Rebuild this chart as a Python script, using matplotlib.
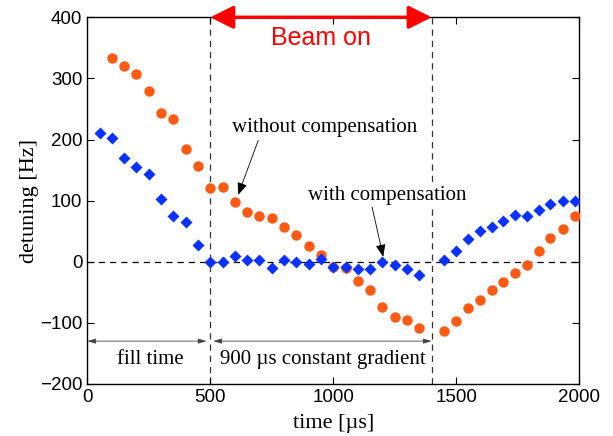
import matplotlib
matplotlib.use("Agg")
import matplotlib.pyplot as plt

# detuning without compensation (orange circles)
t_without = [100, 150, 200, 250, 300, 350, 400, 450, 500, 550, 600, 650, 700,
             750, 800, 850, 900, 950, 1000, 1050, 1100, 1150, 1200, 1250, 1300,
             1350, 1450, 1500, 1546, 1595, 1644, 1690, 1739, 1788, 1835, 1882,
             1932, 1981]
d_without = [333, 321, 308, 280, 244, 233, 185, 156, 120, 123, 98, 82, 75,
             72, 56, 44, 25, 11, -8, -10, -32, -46, -74, -91, -96,
             -108, -113, -97, -76, -62, -47, -33, -18, -5, 17, 38,
             54, 75]

# detuning with compensation (blue diamonds)
t_with = [50, 100, 150, 200, 250, 300, 350, 400, 450, 500, 550, 600, 650, 700,
          750, 800, 850, 900, 950, 1000, 1050, 1100, 1150, 1200, 1250, 1300,
          1350, 1450, 1500, 1546, 1595, 1644, 1690, 1739, 1788, 1835, 1882,
          1932, 1981]
d_with = [211, 203, 169, 155, 144, 102, 75, 65, 28, -1, -1, 10, 2, 2,
          -10, 3, -1, -4, 5, -9, -8, -12, -12, -1, -5, -12,
          -21, 3, 17, 37, 51, 57, 66, 76, 75, 85, 94,
          100, 100]

fill_end = 500
beam_end = 1400

serif = ["Liberation Serif", "DejaVu Serif"]
sans = ["Liberation Sans", "DejaVu Sans"]

fig = plt.figure(figsize=(6.13, 4.36), dpi=100)
ax = fig.add_axes([0.1424, 0.1195, 0.8026, 0.8408])

ax.axhline(0, color="black", lw=0.9, ls=(0, (5, 4)), zorder=1)
ax.axvline(fill_end, color="#333333", lw=0.9, ls=(0, (5, 4)), zorder=1)
ax.axvline(beam_end, color="#333333", lw=0.9, ls=(0, (5, 4)), zorder=1)

ax.plot(t_without, d_without, "o", color="#FF5A14", ms=7.5, mec="none", zorder=3)
ax.plot(t_with, d_with, "D", color="#0A32FF", ms=6.5, mec="none", zorder=3)

ax.set_xlim(0, 2000)
ax.set_ylim(-200, 400)
ax.set_xticks(range(0, 2001, 500))
ax.set_yticks(range(-200, 401, 100))
ax.tick_params(direction="in", top=True, right=True, length=5, width=0.8,
               labelsize=13.5)
for lbl in ax.get_xticklabels() + ax.get_yticklabels():
    lbl.set_family(sans)
for sp in ax.spines.values():
    sp.set_linewidth(1.0)

ax.set_xlabel("time [\u00b5s]", family=serif, fontsize=16, labelpad=6)
ax.set_ylabel("detuning [Hz]", family=serif, fontsize=16, labelpad=1)

# beam on arrow across the top
ax.annotate("", xy=(fill_end, 400), xytext=(beam_end, 400),
            arrowprops=dict(arrowstyle="<|-|>,head_length=1.4,head_width=0.7",
                            color="red", lw=2.5, shrinkA=0, shrinkB=0),
            annotation_clip=False, zorder=5)
ax.text(950, 366, "Beam on", color="red", family=sans, fontsize=18,
        ha="center", va="center")

# labelled curves
ax.annotate("without compensation", xy=(609, 105), xytext=(963, 219),
            family=serif, fontsize=15, ha="center", va="center",
            arrowprops=dict(arrowstyle="-|>,head_length=0.5,head_width=0.2",
                            color="black", lw=0.6, shrinkA=0, shrinkB=2,
                            relpos=(0.15, 0.0)))
ax.annotate("with compensation", xy=(1203, 8), xytext=(1220, 109),
            family=serif, fontsize=15, ha="center", va="center",
            bbox=dict(boxstyle="square,pad=0.1", fc="white", ec="none"),
            arrowprops=dict(arrowstyle="-|>,head_length=0.5,head_width=0.2",
                            color="black", lw=0.6, shrinkA=0, shrinkB=0,
                            relpos=(0.4, 0.0)), zorder=4)

# time interval markers at the bottom
ax.annotate("", xy=(0, -130), xytext=(485, -130),
            arrowprops=dict(arrowstyle="<|-|>,head_length=0.5,head_width=0.15",
                            color="#444444", lw=0.6, shrinkA=0, shrinkB=0))
ax.annotate("", xy=(512, -130), xytext=(1400, -130),
            arrowprops=dict(arrowstyle="<|-|>,head_length=0.5,head_width=0.15",
                            color="#444444", lw=0.6, shrinkA=0, shrinkB=0))
ax.text(255, -160, "fill time", family=serif, fontsize=15,
        ha="center", va="center")
ax.text(958, -160, "900 \u00b5s constant gradient", family=serif, fontsize=15,
        ha="center", va="center")

fig.savefig("out.png", dpi=100)
